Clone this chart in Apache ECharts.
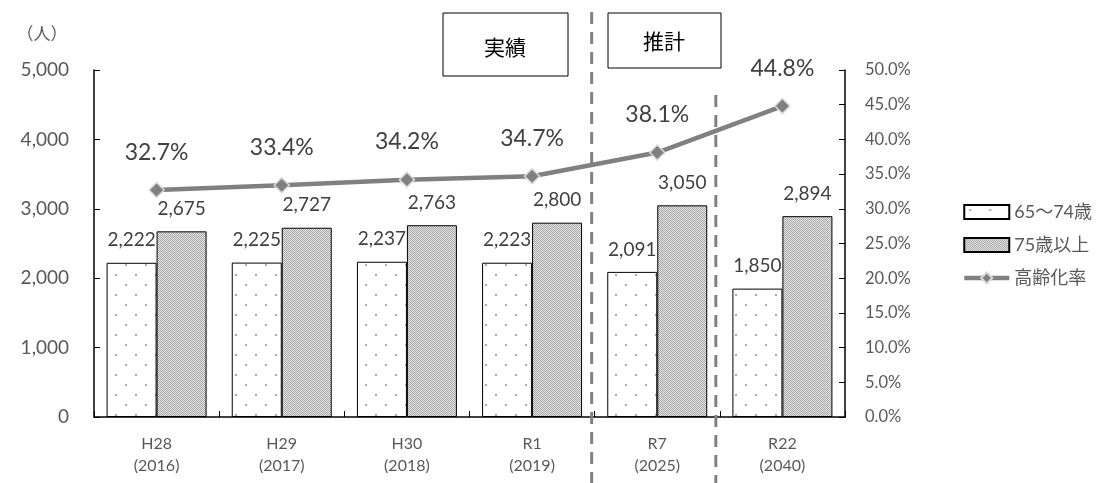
<!DOCTYPE html>
<html><head><meta charset="utf-8">
<script src="https://cdn.jsdelivr.net/npm/echarts@6/dist/echarts.min.js"></script>
<style>html,body{margin:0;padding:0;background:#fff}#c{width:1105px;height:483px}</style>
</head><body><div id="c"></div>
<script>
const categories = ['H28\n(2016)', 'H29\n(2017)', 'H30\n(2018)', 'R1\n(2019)', 'R7\n(2025)', 'R22\n(2040)'];
const age65to74 = [2222, 2225, 2237, 2223, 2091, 1850];
const age75plus = [2675, 2727, 2763, 2800, 3050, 2894];
const agingRate = [32.7, 33.4, 34.2, 34.7, 38.1, 44.8];
const leftTicks = [0, 1000, 2000, 3000, 4000, 5000];
const seriesNames = ['65～74歳', '75歳以上', '高齢化率'];

const FONT = 'Lato, "Noto Sans CJK JP", sans-serif';

function dotPattern() {
  const c = document.createElement('canvas'); c.width = 20; c.height = 20;
  const g = c.getContext('2d');
  g.fillStyle = '#ffffff'; g.fillRect(0, 0, 20, 20);
  g.fillStyle = '#a6a6a6';
  g.fillRect(5, 4, 2, 2); g.fillRect(15, 14, 2, 2);
  return c;
}
function checkPattern() {
  const c = document.createElement('canvas'); c.width = 2; c.height = 2;
  const g = c.getContext('2d');
  g.fillStyle = '#e6e6e6'; g.fillRect(0, 0, 2, 2);
  g.fillStyle = '#a6a6a6';
  g.fillRect(0, 0, 1, 1); g.fillRect(1, 1, 1, 1);
  return c;
}

const chart = echarts.init(document.getElementById('c'));
const fmtNum = v => v.toLocaleString('en-US');

chart.setOption({
  animation: false,
  textStyle: { fontFamily: FONT },
  grid: { left: 94, right: 260, top: 70, bottom: 66, containLabel: false },
  legend: {
    orient: 'vertical', left: 957, top: 198, itemWidth: 45, itemHeight: 14, itemGap: 15,
    textStyle: { fontSize: 18, color: '#595959', fontFamily: FONT },
    data: [
      { name: seriesNames[0], icon: 'rect' },
      { name: seriesNames[1], icon: 'rect' },
      { name: seriesNames[2] }
    ],
    lineStyle: { width: 4.5 }
  },
  xAxis: {
    type: 'category', data: categories,
    axisLine: { lineStyle: { color: '#000', width: 1.5 } },
    axisTick: { show: true, inside: true, length: 6, lineStyle: { color: '#000' } },
    axisLabel: { fontSize: 16, color: '#595959', lineHeight: 22, margin: 16 }
  },
  yAxis: [{
    type: 'value', min: leftTicks[0], max: leftTicks[leftTicks.length - 1], interval: 1000,
    splitLine: { show: false },
    axisLine: { show: true, lineStyle: { color: '#000', width: 1.5 } },
    axisTick: { show: true, inside: true, length: 6, lineStyle: { color: '#000' } },
    axisLabel: { fontSize: 19, color: '#595959', margin: 25, formatter: v => fmtNum(v) }
  }, {
    type: 'value', min: 0, max: 50, interval: 5,
    splitLine: { show: false },
    axisLine: { show: true, lineStyle: { color: '#000', width: 1.5 } },
    axisTick: { show: true, inside: true, length: 6, lineStyle: { color: '#000' } },
    axisLabel: { fontSize: 16.5, color: '#595959', margin: 20, formatter: v => v.toFixed(1) + '%' }
  }],
  series: [{
    name: seriesNames[0], type: 'bar', data: age65to74, barWidth: 50, barGap: '0%',
    itemStyle: { color: { image: dotPattern(), repeat: 'repeat' }, borderColor: '#000', borderWidth: 1 },
    label: { show: true, position: 'top', distance: 13, fontSize: 19, color: '#404040', formatter: p => fmtNum(p.value) }
  }, {
    name: seriesNames[1], type: 'bar', data: age75plus, barWidth: 50,
    itemStyle: { color: { image: checkPattern(), repeat: 'repeat' }, borderColor: '#000', borderWidth: 1 },
    label: { show: true, position: 'top', distance: 13, fontSize: 19, color: '#404040', formatter: p => fmtNum(p.value) }
  }, {
    name: seriesNames[2], type: 'line', yAxisIndex: 1, data: agingRate,
    lineStyle: { color: '#808080', width: 4.5 },
    symbol: 'diamond', symbolSize: 15,
    itemStyle: { color: '#808080', borderColor: '#d9d9d9', borderWidth: 1.5 },
    label: { show: true, position: 'top', distance: 18, fontSize: 23, color: '#404040', formatter: p => p.value.toFixed(1) + '%' },
    z: 5
  }]
});

const bx1 = (chart.convertToPixel({ xAxisIndex: 0 }, categories[3]) + chart.convertToPixel({ xAxisIndex: 0 }, categories[4])) / 2 - 3;
const bx2 = (chart.convertToPixel({ xAxisIndex: 0 }, categories[4]) + chart.convertToPixel({ xAxisIndex: 0 }, categories[5])) / 2 - 4;
const dash = { stroke: '#808080', lineWidth: 3, lineDash: [12, 8] };

chart.setOption({
  graphic: [
    { type: 'line', shape: { x1: bx1, y1: 12, x2: bx1, y2: 483 }, style: dash, z: 10 },
    { type: 'line', shape: { x1: bx2, y1: 95, x2: bx2, y2: 483 }, style: dash, z: 10 },
    { type: 'rect', shape: { x: 443, y: 13, width: 125, height: 63 }, style: { fill: '#fff', stroke: '#000', lineWidth: 1 }, z: 11 },
    { type: 'text', x: 505, y: 47, style: { text: '実績', font: '21px "Noto Sans CJK JP"', fill: '#000', align: 'center', verticalAlign: 'middle' }, z: 12 },
    { type: 'rect', shape: { x: 608, y: 13, width: 113, height: 55 }, style: { fill: '#fff', stroke: '#000', lineWidth: 1 }, z: 11 },
    { type: 'text', x: 664, y: 41, style: { text: '推計', font: '21px "Noto Sans CJK JP"', fill: '#000', align: 'center', verticalAlign: 'middle' }, z: 12 },
    { type: 'text', x: 42, y: 34, style: { text: '（人）', font: '17px "Noto Sans CJK JP"', fill: '#595959', align: 'center', verticalAlign: 'middle' }, z: 12 }
  ]
});
</script>
</body></html>
